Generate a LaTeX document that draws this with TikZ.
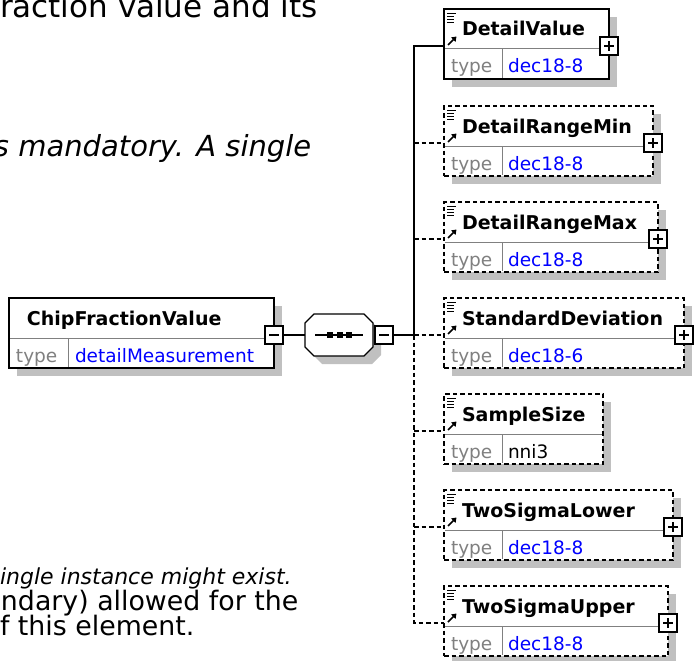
\documentclass[tikz,border=0pt]{standalone}
\usepackage{fontspec}
\setmainfont{DejaVu Sans}
\usetikzlibrary{arrows.meta}
\definecolor{shadowc}{RGB}{192,192,192}
\definecolor{typegray}{RGB}{128,128,128}
\definecolor{valblue}{RGB}{0,0,255}
\tikzset{
  every node/.style={inner sep=0pt, outer sep=0pt},
  boxborder/.style={draw=black, line width=1.4pt, fill=white},
  solidborder/.style={boxborder},
  optborder/.style={boxborder, dash pattern=on 4.5pt off 3pt},
  conn/.style={draw=black, line width=1.1pt},
  optconn/.style={conn, dash pattern=on 4.5pt off 3pt},
  divline/.style={draw=typegray, line width=1pt},
  titletext/.style={font=\fontsize{19}{22}\selectfont\bfseries, anchor=base west},
  typetext/.style={font=\fontsize{18.5}{22}\selectfont, anchor=base west, text=typegray},
  valtext/.style={font=\fontsize{18.5}{22}\selectfont, anchor=base west, text=valblue},
  blackval/.style={font=\fontsize{18.5}{22}\selectfont, anchor=base west, text=black},
  pmbox/.style={draw=black, line width=1.3pt, fill=white, minimum width=18pt, minimum height=18pt},
  pmline/.style={draw=black, line width=1.3pt},
  bgtext/.style={anchor=base west, text=black},
  iconline/.style={draw=black, line width=1pt},
  iconarrow/.style={draw=black, line width=1.7pt, -{Triangle[length=4.5pt,width=6pt]}},
}
% #1 id, #2 top, #3 right, #4 title, #5 value, #6 value style, #7 border style
\newcommand\XElem[7]{%
  \fill[shadowc] (452,#2+8) rectangle (#3+8,#2+78);
  \node[#7, minimum width={#3-444}, minimum height=70pt, anchor=north west] (#1) at (444,#2) {};
  \draw[divline] (445,#2+40) -- (#3-1,#2+40) (502,#2+40) -- (502,#2+69);
  \draw[iconline] (447,#2+4.5) -- (456,#2+4.5) (447,#2+7.5) -- (454,#2+7.5) (447,#2+10.5) -- (454,#2+10.5) (447,#2+13.5) -- (454,#2+13.5);
  \draw[iconarrow] (448,#2+36) -- (456.5,#2+27.5);
  \node[titletext] (#1-title) at (462,#2+27) {#4};
  \node[typetext] (#1-type) at (451,#2+64) {type};
  \node[#6] (#1-val) at (508,#2+64) {#5};
  \coordinate (#1-in) at (444,#2+37);
}
% #1 id, #2 x, #3 y
\newcommand\XPlus[3]{%
  \node[pmbox] (#1) at (#2,#3) {};
  \draw[pmline] (#2-5,#3) -- (#2+5,#3) (#2,#3-5) -- (#2,#3+5);
}
\newcommand\XMinus[3]{%
  \node[pmbox] (#1) at (#2,#3) {};
  \draw[pmline] (#2-5,#3) -- (#2+5,#3);
}
\begin{document}
\begin{tikzpicture}[x=1pt,y=-1pt]
\fill[white] (0,0) rectangle (694,661);
\useasboundingbox (0,0) rectangle (694,661);

% background documentation text
\begin{scope}
\clip (0,0) rectangle (694,661);
\node[bgtext, font=\fontsize{31}{36}\selectfont] (t1) at (0,18) {raction value and its};
\node[bgtext, font=\fontsize{29}{34}\selectfont\itshape] (t2) at (-6,156) {s mandatory. A single};
\node[bgtext, font=\fontsize{22}{26}\selectfont\itshape] (t3) at (0,584) {ingle instance might exist.};
\node[bgtext, font=\fontsize{26.8}{30}\selectfont] (t4) at (1,610) {ndary) allowed for the};
\node[bgtext, font=\fontsize{26.8}{30}\selectfont] (t5) at (0,635) {f this element.};
\end{scope}

% ChipFractionValue
\fill[shadowc] (17,306) rectangle (282,376);
\node[solidborder, minimum width=265pt, minimum height=70pt, anchor=north west] (chip) at (9,298) {};
\draw[divline] (10,338) -- (273,338) (68,338) -- (68,367);
\node[titletext] (chip-title) at (27,325) {ChipFractionValue};
\node[typetext] (chip-type) at (16,362) {type};
\node[valtext] (chip-val) at (75,362) {detailMeasurement};
\XMinus{cm}{274}{335}

% sequence compositor
\fill[shadowc] (322,322) -- (372,322) -- (381,331) -- (381,355) -- (372,364) -- (322,364) -- (313,355) -- (313,331) -- cycle;
\draw[line width=1.3pt, fill=white] (314,314) -- (364,314) -- (373,323) -- (373,347) -- (364,356) -- (314,356) -- (305,347) -- (305,323) -- cycle;
\node[minimum width=68pt, minimum height=42pt] (seq) at (339,335) {};
\draw[line width=1.1pt] (315,335) -- (363,335);
\fill (327,332) rectangle +(6,6);
\fill (336.5,332) rectangle +(6,6);
\fill (346,332) rectangle +(6,6);
\XMinus{sm}{384}{335}

% child elements
\XElem{dv}{9}{609}{DetailValue}{dec18-8}{valtext}{solidborder}
\XPlus{dvp}{609}{46}
\XElem{drmin}{106}{653}{DetailRangeMin}{dec18-8}{valtext}{optborder}
\XPlus{drminp}{653}{143}
\XElem{drmax}{202}{658}{DetailRangeMax}{dec18-8}{valtext}{optborder}
\XPlus{drmaxp}{658}{239}
\XElem{sd}{298}{684}{StandardDeviation}{dec18-6}{valtext}{optborder}
\XPlus{sdp}{684}{335}
\XElem{ss}{394}{603}{SampleSize}{nni3}{blackval}{optborder}
\XElem{tsl}{490}{673}{TwoSigmaLower}{dec18-8}{valtext}{optborder}
\XPlus{tslp}{673}{527}
\XElem{tsu}{586}{668}{TwoSigmaUpper}{dec18-8}{valtext}{optborder}
\XPlus{tsup}{668}{623}

% connectors
\coordinate (spine) at (414,335);
\draw[conn] (cm.east) -- (seq.west);
\draw[conn] (sm.east) -- (spine);
\draw[conn] (spine) |- (dv-in);
\draw[optconn] (spine |- drmin-in) -- (drmin-in);
\draw[optconn] (spine |- drmax-in) -- (drmax-in);
\draw[optconn] (spine) -- (sd-in);
\draw[optconn] (spine) -- (spine |- tsu-in) -- (tsu-in);
\draw[optconn] (spine |- ss-in) -- (ss-in);
\draw[optconn] (spine |- tsl-in) -- (tsl-in);
\end{tikzpicture}
\end{document}
